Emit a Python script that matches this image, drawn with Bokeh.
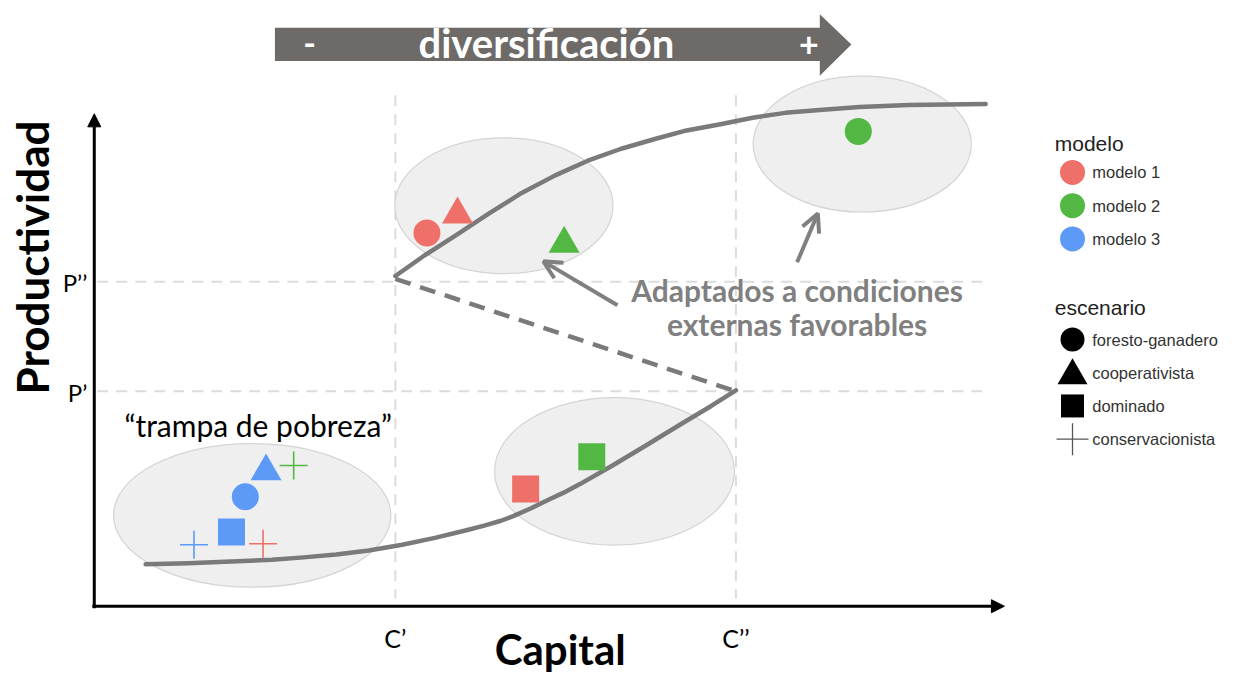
from bokeh.plotting import figure
from bokeh.models import Range1d, Label, Arrow, NormalHead, OpenHead, ColumnDataSource
from bokeh.embed import file_html
from bokeh.resources import INLINE

# ---------------- data ----------------
modelos = ["modelo 1", "modelo 2", "modelo 3"]
colores_modelo = ["#EF7068", "#53B843", "#5D9AF8"]
escenarios = ["foresto-ganadero", "cooperativista", "dominado", "conservacionista"]
marcadores = ["circle", "triangle", "square", "cross"]

# points (capital, productividad) in diagram units (productividad axis grows upward on screen)
punto_modelo = [0, 0, 1, 1, 0, 1, 2, 1, 2, 2, 2, 0]
punto_escenario = [0, 1, 1, 0, 2, 2, 1, 3, 0, 2, 3, 3]
punto_capital = [432, 463, 571, 869, 532, 599, 269, 297, 248, 234, 196, 266]
punto_productividad = [238, 219, 249, 134, 500, 467, 482, 476, 508, 544, 557, 556]

# S-shaped response curve
rama_baja_capital = [147, 190, 240, 275, 307, 340, 373, 407, 440, 473, 490, 507, 520, 537, 553, 570, 587, 620, 653, 687, 720, 745]
rama_baja_prod = [577, 576, 574, 572.5, 570, 567, 563, 557, 550, 542, 537.5, 532.5, 527.5, 520, 512, 504, 495, 476, 456, 435, 415, 399]
rama_media_capital = [400, 745]
rama_media_prod = [285, 400]
rama_alta_capital = [400, 428, 462, 495, 528, 562, 595, 628, 662, 695, 728, 762, 795, 830, 870, 920, 998]
rama_alta_prod = [282, 262, 240, 218, 197, 179, 164, 152, 142, 133, 127, 120, 115, 112, 109, 107, 106]

# clusters (ellipses)
cluster_capital = [255, 622, 510, 873]
cluster_prod = [527, 482, 210, 147]
cluster_ancho = [281, 243, 221, 221]
cluster_alto = [147, 151, 139, 139]

# thresholds
umbral_capital = [400, 745]
etiquetas_capital = ["C\u2019", "C\u2019\u2019"]
umbral_prod = [288, 400]
etiquetas_prod = ["P\u2019\u2019", "P\u2019"]

# ---------------- figure ----------------
p = figure(width=1226, height=679, x_range=Range1d(0, 1242), y_range=Range1d(695, 0),
           output_backend="svg", toolbar_location=None, min_border=0)
p.axis.visible = False
p.grid.visible = False
p.outline_line_color = None
p.background_fill_color = "white"
p.border_fill_color = "white"

GRAY = "#7a7a7a"
FONT = "Lato"

# dashed threshold lines
for xv in umbral_capital:
    p.line([xv, xv], [97, 612], line_color="#dcdcdc", line_width=2, line_dash="11 8")
for yv in umbral_prod:
    p.line([98, 1000], [yv, yv], line_color="#dcdcdc", line_width=2, line_dash="11 8")

# ellipses
p.ellipse(x=cluster_capital, y=cluster_prod, width=cluster_ancho, height=cluster_alto,
          fill_color="#efefef", line_color="#d4d4d4", line_width=1.2)

# curve
p.line(rama_baja_capital, rama_baja_prod, line_color=GRAY, line_width=4.5, line_join="round", line_cap="round")
p.line(rama_alta_capital, rama_alta_prod, line_color=GRAY, line_width=4.5, line_join="round", line_cap="round")
p.line(rama_media_capital, rama_media_prod, line_color=GRAY, line_width=4.5, line_dash="16 10")

# points
sizes = {"circle": 27, "triangle": 31, "square": 27, "cross": 28}
for ei, mk in enumerate(marcadores):
    idx = [i for i, e in enumerate(punto_escenario) if e == ei]
    src = ColumnDataSource(dict(
        x=[punto_capital[i] for i in idx],
        y=[punto_productividad[i] for i in idx],
        c=[colores_modelo[punto_modelo[i]] for i in idx],
    ))
    if mk == "cross":
        p.scatter("x", "y", source=src, marker=mk, size=sizes[mk], line_color="c", line_width=1.6)
    else:
        p.scatter("x", "y", source=src, marker=mk, size=sizes[mk], fill_color="c", line_color=None)

# axes arrows
p.add_layout(Arrow(end=NormalHead(size=13, fill_color="black", line_color="black"),
                   x_start=95, y_start=622, x_end=95, y_end=116, line_width=3, line_color="black"))
p.add_layout(Arrow(end=NormalHead(size=13, fill_color="black", line_color="black"),
                   x_start=93, y_start=620, x_end=1017, y_end=620, line_width=3, line_color="black"))

# threshold labels
for xv, t in zip(umbral_capital, etiquetas_capital):
    p.add_layout(Label(x=xv, y=653, text=t, text_font=FONT, text_font_size="25px",
                       text_align="center", text_baseline="middle", text_color="black"))
for yv, t in zip(umbral_prod, etiquetas_prod):
    p.add_layout(Label(x=88, y=yv + 1, text=t, text_font=FONT, text_font_size="24px",
                       text_align="right", text_baseline="middle", text_color="black"))

# axis titles
p.add_layout(Label(x=567, y=664, text="Capital", text_font=FONT, text_font_size="42px",
                   text_font_style="bold", text_align="center", text_baseline="middle", text_color="black"))
p.add_layout(Label(x=32, y=263, text="Productividad", text_font=FONT, text_font_size="44px",
                   text_font_style="bold", text_align="center", text_baseline="middle",
                   angle=90, angle_units="deg", text_color="black"))

# top banner arrow
p.patch([278, 830, 830, 862, 830, 830, 278], [28, 28, 14, 45, 77, 62, 62], fill_color="#6e6a68", line_color=None)
p.add_layout(Label(x=313, y=44, text="-", text_font=FONT, text_font_size="34px", text_font_style="bold",
                   text_align="center", text_baseline="middle", text_color="white"))
p.add_layout(Label(x=553, y=44, text="diversificación", text_font=FONT, text_font_size="40px",
                   text_font_style="bold", text_align="center", text_baseline="middle", text_color="white"))
p.add_layout(Label(x=819, y=45, text="+", text_font=FONT, text_font_size="34px", text_font_style="bold",
                   text_align="center", text_baseline="middle", text_color="white"))

# annotations
p.add_layout(Label(x=261, y=434, text="\u201ctrampa de pobreza\u201d", text_font=FONT, text_font_size="30px",
                   text_align="center", text_baseline="middle", text_color="black"))
p.add_layout(Label(x=807, y=296, text="Adaptados a condiciones", text_font=FONT, text_font_size="30px",
                   text_font_style="bold", text_align="center", text_baseline="middle", text_color="#808080"))
p.add_layout(Label(x=807, y=331, text="externas favorables", text_font=FONT, text_font_size="30px",
                   text_font_style="bold", text_align="center", text_baseline="middle", text_color="#808080"))
p.add_layout(Arrow(end=OpenHead(size=18, line_color="#808080", line_width=4),
                   x_start=625, y_start=312, x_end=550, y_end=267, line_width=4, line_color="#808080"))
p.add_layout(Arrow(end=OpenHead(size=18, line_color="#808080", line_width=4),
                   x_start=807, y_start=268, x_end=828, y_end=218, line_width=4, line_color="#808080"))

# legend (manual)
LEG_FONT = "Liberation Sans"
p.add_layout(Label(x=1068, y=146, text="modelo", text_font=LEG_FONT, text_font_size="21px",
                   text_align="left", text_baseline="middle", text_color="#222222"))
leg_y_modelo = [176, 210, 244]
p.scatter([1086] * 3, leg_y_modelo, marker="circle", size=25, fill_color=colores_modelo, line_color=None)
for yv, t in zip(leg_y_modelo, modelos):
    p.add_layout(Label(x=1106, y=yv, text=t, text_font=LEG_FONT, text_font_size="16.5px",
                       text_align="left", text_baseline="middle", text_color="#333333"))

p.add_layout(Label(x=1068, y=314, text="escenario", text_font=LEG_FONT, text_font_size="21px",
                   text_align="left", text_baseline="middle", text_color="#222222"))
leg_y_esc = [347, 381, 415, 449]
leg_sizes = [24, 30, 23, 32]
for yv, mk, sz, t in zip(leg_y_esc, marcadores, leg_sizes, escenarios):
    yy = yv + 3 if mk == "triangle" else yv
    if mk == "cross":
        p.scatter([1086], [yy], marker=mk, size=sz, line_color="#555555", line_width=1.3)
    else:
        p.scatter([1086], [yy], marker=mk, size=sz, fill_color="black", line_color=None)
    p.add_layout(Label(x=1106, y=yv, text=t, text_font=LEG_FONT, text_font_size="16.5px",
                       text_align="left", text_baseline="middle", text_color="#333333"))

open("out.html", "w").write(file_html(p, INLINE))
